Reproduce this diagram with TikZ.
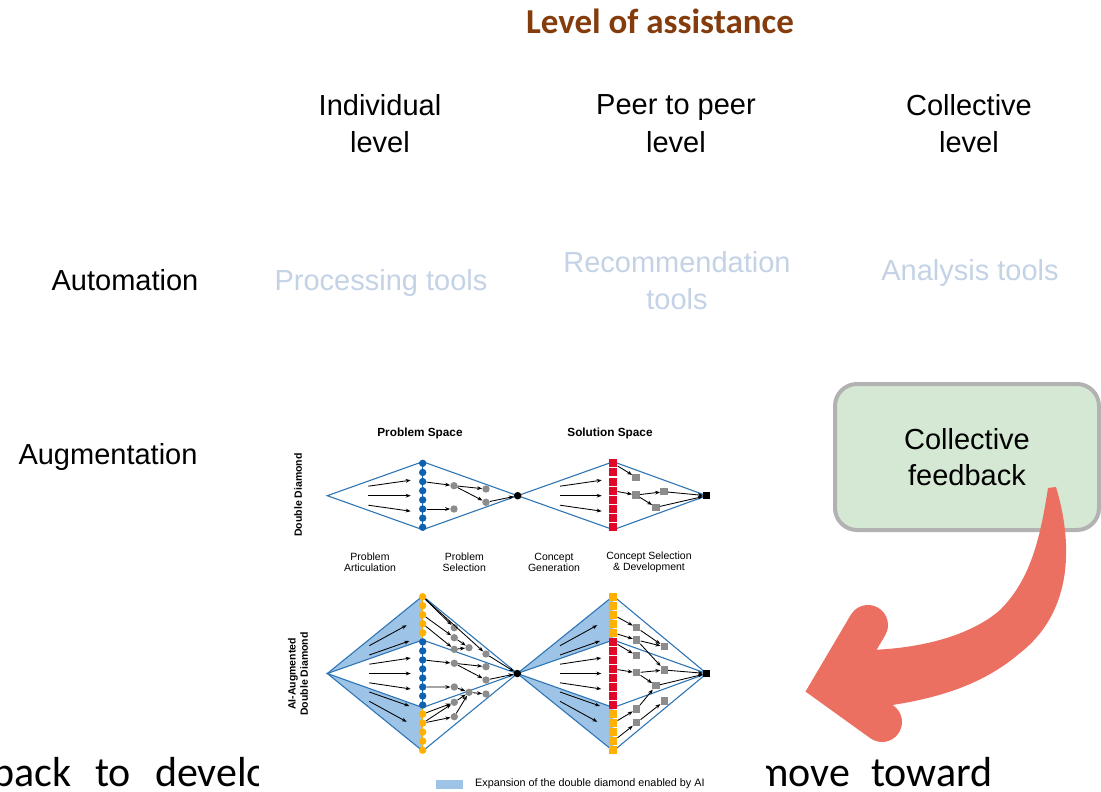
\documentclass[tikz,border=0pt]{standalone}
\usepackage{fontspec}
\setmainfont{Liberation Sans}
\newfontfamily\calibri{Carlito}
\usetikzlibrary{arrows.meta}
\definecolor{titlebrown}{RGB}{132,60,12}
\definecolor{lighttool}{RGB}{196,210,230}
\definecolor{ddline}{RGB}{46,117,182}
\definecolor{ddshade}{RGB}{157,195,230}
\definecolor{ddblue}{RGB}{16,98,176}
\definecolor{ddorange}{RGB}{255,176,0}
\definecolor{ddred}{RGB}{224,8,40}
\definecolor{ddgray}{RGB}{140,140,140}
\definecolor{fbgreen}{RGB}{213,232,212}
\definecolor{fbborder}{RGB}{178,178,178}
\definecolor{arrowred}{RGB}{236,112,98}
\begin{document}
\begin{tikzpicture}[x=1pt,y=-1pt,
  hdr/.style={font=\fontsize{29}{37.5}\selectfont, align=center, inner sep=0pt},
  tooltxt/.style={hdr, text=lighttool},
  sublbl/.style={font=\fontsize{10.5}{11}\selectfont, align=center, inner sep=0pt},
  spacelbl/.style={font=\bfseries\fontsize{11.8}{13}\selectfont, inner sep=0pt},
  sidelbl/.style={font=\bfseries\fontsize{10.5}{12.3}\selectfont, align=center, inner sep=0pt, rotate=90},
  dot/.style={circle, inner sep=0pt, minimum size=7.4pt},
  bluedot/.style={dot, fill=ddblue},
  orangedot/.style={dot, fill=ddorange},
  graydot/.style={dot, fill=ddgray},
  blackdot/.style={dot, fill=black, minimum size=7.5pt},
  sq/.style={rectangle, inner sep=0pt, minimum size=8pt},
  redsq/.style={sq, fill=ddred},
  orangesq/.style={sq, fill=ddorange},
  graysq/.style={sq, fill=ddgray, minimum size=7.4pt},
  blacksq/.style={sq, fill=black, minimum size=7pt},
  conn/.style={-{Stealth[length=5pt,width=3.8pt]}, line width=0.85pt},
  ddl/.style={draw=ddline, line width=1.1pt, line join=miter},
  shadefill/.style={fill=ddshade},
  bottomtxt/.style={font=\calibri\fontsize{42}{50}\selectfont, inner sep=0pt, anchor=base west},
]
\useasboundingbox (0,0) rectangle (1101,792);

% ---------- headings ----------
\node[anchor=base, inner sep=0pt, font=\calibri\bfseries\fontsize{35}{41}\selectfont, text=titlebrown] (title) at (660,33.3) {Level of assistance};
\node[hdr] (indiv) at (380,123.8) {Individual\\level};
\node[hdr] (peer) at (676,123.8) {Peer to peer\\level};
\node[hdr] (coll) at (969,123.8) {Collective\\level};
\node[hdr, anchor=base] (autom) at (125,290.5) {Automation};
\node[tooltxt, anchor=base] (proc) at (381,290.5) {Processing tools};
\node[tooltxt] (recom) at (677,280.5) {Recommendation\\tools};
\node[tooltxt, anchor=base] (anal) at (970,280.5) {Analysis tools};
\node[hdr, anchor=base] (augm) at (108,464.3) {Augmentation};

% ---------- bottom clipped sentence ----------
\begin{scope}
  \clip (0,740) rectangle (258,792);
  \node[bottomtxt] (btleft) at (-8,786) {\spaceskip=24pt back to develop};
\end{scope}
\begin{scope}
  \clip (766,740) rectangle (1101,792);
  \node[bottomtxt] (btright) at (755,786) {\spaceskip=21pt move toward};
\end{scope}

% ---------- double diamond (top) ----------
\node[spacelbl] (pspace) at (420,433) {Problem Space};
\node[spacelbl] (sspace) at (610,433) {Solution Space};
\node[sidelbl] (ddlab) at (298,495) {Double Diamond};

\coordinate (L1) at (327.3,495.7);
\coordinate (T1) at (422.7,461.7);
\coordinate (B1) at (422.7,529.7);
\coordinate (M1) at (517.7,495.7);
\coordinate (T2) at (613.3,461.7);
\coordinate (B2) at (613.3,529.7);
\coordinate (R2) at (706.7,495.7);
\draw[ddl] (L1) -- (T1) -- (M1) -- (B1) -- cycle;
\draw[ddl] (M1) -- (T2) -- (R2) -- (B2) -- cycle;

\foreach \n/\ys/\ye in {a/486.2/480.2, b/495.7/495.7, c/505.2/511.2} {
  \coordinate (tlS\n) at (368.3,\ys); \coordinate (tlE\n) at (410.7,\ye);
  \draw[conn] (tlS\n) -- (tlE\n);
  \coordinate (trS\n) at (560,\ys); \coordinate (trE\n) at (601.7,\ye);
  \draw[conn] (trS\n) -- (trE\n);
}

\draw[ddblue, line width=1.5pt] (422.7,463.3) -- (422.7,527.3);
\foreach \k in {0,...,7} {
  \node[bluedot] (ta\k) at (422.7,{463.3+\k*9.14}) {};
  \node[redsq] (tr\k) at (613.3,{463.3+\k*9.14}) {};
}
\node[graydot] (tgA) at (454,485.7) {};
\node[graydot] (tgB) at (454,509) {};
\node[graydot] (tgC) at (486,489) {};
\node[graydot] (tgD) at (486,502.3) {};
\node[blackdot] (bk1) at (517.7,495.7) {};
\node[graysq] (tsA) at (636,477.3) {};
\node[graysq] (tsB) at (636,495) {};
\node[graysq] (tsC) at (664,491.7) {};
\node[graysq] (tsD) at (656,507.3) {};
\node[blacksq] (bk2) at (706.7,495.7) {};

\draw[conn] (ta2) -- (tgA);
\draw[conn] (ta5) -- (tgB);
\draw[conn] (tgA) -- (tgC);
\draw[conn] (tgA) -- (tgD);
\draw[conn] (tgD) -- (bk1);
\draw[conn] (tr0) -- (tsA);
\draw[conn] (tr3) -- (tsB);
\draw[conn] (tsB) -- (tsC);
\draw[conn] (tsB) -- (tsD);
\draw[conn] (tsC) -- (bk2);
\draw[conn] (tsD) -- (bk2);

\node[sublbl] (lab1) at (370,562.5) {Problem\\Articulation};
\node[sublbl] (lab2) at (464.3,562.5) {Problem\\Selection};
\node[sublbl] (lab3) at (554,562.5) {Concept\\Generation};
\node[sublbl] (lab4) at (649,562.5) {Concept Selection\\\& Development};

% ---------- AI-augmented double diamond (bottom) ----------
\node[sidelbl] (aidlab) at (298,674) {AI-Augmented\\Double Diamond};

\coordinate (L3) at (327.3,673.5);
\coordinate (T3) at (422.7,596);
\coordinate (B3) at (422.7,751);
\coordinate (IT3) at (422.7,640);
\coordinate (IB3) at (422.7,707.5);
\coordinate (M3) at (517.3,673.5);
\coordinate (T4) at (613.3,596);
\coordinate (B4) at (613.3,751);
\coordinate (IT4) at (613.3,640);
\coordinate (IB4) at (613.3,707.5);
\coordinate (R4) at (706.7,673.5);

\fill[shadefill] (L3) -- (T3) -- (IT3) -- cycle;
\fill[shadefill] (L3) -- (IB3) -- (B3) -- cycle;
\fill[shadefill] (M3) -- (T4) -- (IT4) -- cycle;
\fill[shadefill] (M3) -- (IB4) -- (B4) -- cycle;
\draw[ddl] (L3) -- (T3) -- (M3) -- (B3) -- cycle;
\draw[ddl] (L3) -- (IT3) -- (M3) -- (IB3) -- cycle;
\draw[ddl] (M3) -- (T4) -- (R4) -- (B4) -- cycle;
\draw[ddl] (M3) -- (IT4) -- (R4) -- (IB4) -- cycle;

\foreach \n/\ds/\de/\xe in {1/-27.8/-48.3/406.7, 2/-18.5/-32.5/409.3, 3/-9.3/-15.5/410.7, 4/0/0/410.7, 5/9.3/15.5/410.7, 6/18.5/32.5/409.3, 7/27.8/48.3/406.7} {
  \coordinate (blS\n) at (369.3,{673.5+(\ds)}); \coordinate (blE\n) at (\xe,{673.5+(\de)});
  \draw[conn] (blS\n) -- (blE\n);
  \coordinate (brS\n) at (560,{673.5+(\ds)}); \coordinate (brE\n) at ({\xe+190.6},{673.5+(\de)});
  \draw[conn] (brS\n) -- (brE\n);
}

\draw[ddorange, line width=1.5pt] (422.7,596.7) -- (422.7,750.2);
\draw[ddblue, line width=1.5pt] (422.7,641.9) -- (422.7,705.1);
\foreach \k in {0,...,4,13,14,...,17} {
  \node[orangedot] (ba\k) at (422.7,{596.7+\k*9.03}) {};
  \node[orangesq] (br\k) at (613.3,{596.7+\k*9.03}) {};
}
\foreach \k in {5,...,12} {
  \node[bluedot] (ba\k) at (422.7,{596.7+\k*9.03}) {};
  \node[redsq] (br\k) at (613.3,{596.7+\k*9.03}) {};
}

\node[graydot] (bgA) at (454.3,627.7) {};
\node[graydot] (bgB) at (454.3,637.7) {};
\node[graydot] (bgC) at (454.3,649.3) {};
\node[graydot] (bgD) at (469,647.7) {};
\node[graydot] (bgE) at (486,654) {};
\node[graydot] (bgF) at (454.3,663.3) {};
\node[graydot] (bgG) at (486,666.7) {};
\node[graydot] (bgH) at (486,680) {};
\node[graydot] (bgI) at (454.3,687) {};
\node[graydot] (bgJ) at (469,692.3) {};
\node[graydot] (bgK) at (486,694) {};
\node[graydot] (bgL) at (454.3,702.3) {};
\node[graydot] (bgM) at (454.3,716.7) {};
\node[blackdot] (bk3) at (517.3,673.5) {};

\draw[conn] (ba0) -- (bgA);
\draw[conn] (ba0) -- (bgE);
\draw[conn] (ba2) -- (bgB);
\draw[conn] (ba3) -- (bgC);
\draw[conn] (bgB) -- (bgD);
\draw[conn] (bgC) -- (bgD);
\draw[conn] (ba7) -- (bgF);
\draw[conn] (bgF) -- (bgG);
\draw[conn] (bgF) -- (bgH);
\draw[conn] (bgE) -- (bk3);
\draw[conn] (bgH) -- (bk3);
\draw[conn] (ba10) -- (bgI);
\draw[conn] (bgI) -- (bgJ);
\draw[conn] (bgJ) -- (bgK);
\draw[conn] (bgL) -- (bgJ);
\draw[conn] (bgM) -- (bgJ);
\draw[conn] (ba13) -- (bgL);
\draw[conn] (ba14) -- (bgL);
\draw[conn] (ba14) -- (bgM);

\node[graysq] (bsP) at (636.7,627.7) {};
\node[graysq] (bsQ) at (636.7,640) {};
\node[graysq] (bsR) at (636.7,655.7) {};
\node[graysq] (bsS) at (664.3,646.7) {};
\node[graysq] (bsT) at (664.3,670) {};
\node[graysq] (bsU) at (636.7,672.7) {};
\node[graysq] (bsV) at (656,685.7) {};
\node[graysq] (bsW) at (664.3,701) {};
\node[graysq] (bsX) at (636.7,709) {};
\node[graysq] (bsY) at (636.7,722.7) {};
\node[blacksq] (bk4) at (706.7,673.5) {};

\draw[conn] (br2) -- (bsP);
\draw[conn] (br4) -- (bsQ);
\draw[conn] (bsP) -- (bsS);
\draw[conn] (bsQ) -- (bsS);
\draw[conn] (bsQ) -- (bsT);
\draw[conn] (br5) -- (bsR);
\draw[conn] (br8) -- (bsU);
\draw[conn] (bsU) -- (bsT);
\draw[conn] (bsU) -- (bsV);
\draw[conn] (bsT) -- (bk4);
\draw[conn] (bsV) -- (bk4);
\draw[conn] (br14) -- (bsX);
\draw[conn] (br16) -- (bsY);
\draw[conn] (bsX) -- (bsV);
\draw[conn] (bsY) -- (bsW);

\node[fill=ddshade, minimum width=27pt, minimum height=9.3pt, inner sep=0pt] (legbox) at (449.7,784.7) {};
\node[anchor=west, inner sep=0pt, font=\fontsize{10.8}{12}\selectfont] (legtxt) at (475,784.2) {Expansion of the double diamond enabled by AI};

% ---------- collective feedback box and red arrow ----------
\node[draw=fbborder, line width=4pt, fill=fbgreen, rounded corners=22pt,
      minimum width=264pt, minimum height=146pt, inner sep=0pt, align=center,
      font=\fontsize{29}{36}\selectfont] (fbbox) at (967,457) {Collective\\feedback};

\coordinate (arrV) at (832,686);
\coordinate (arrU) at (868,625);
\coordinate (arrD) at (882,722);
\fill[arrowred] (1056,487) .. controls (1072,540) and (1075,610) .. (1020,653)
   .. controls (985,683) and (940,700) .. (870,708) -- (840,702) -- (840,668) -- (870,650)
   .. controls (930,648) and (975,632) .. (1000,610)
   .. controls (1030,580) and (1040,540) .. (1048,488) -- cycle;
\draw[arrowred, line width=40pt, line cap=round, line join=miter] (arrU) -- (arrV) -- (arrD);
\end{tikzpicture}
\end{document}
